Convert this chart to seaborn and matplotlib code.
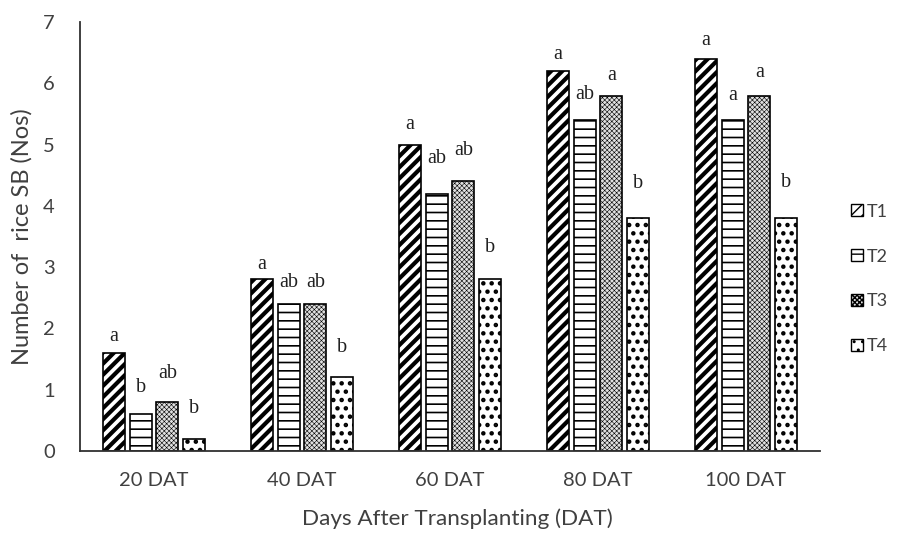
import matplotlib
matplotlib.use("Agg")
import matplotlib.pyplot as plt
from matplotlib.patches import Patch
import numpy as np
import pandas as pd
import seaborn as sns

# Sampling dates and treatments
stages = ["20 DAT", "40 DAT", "60 DAT", "80 DAT", "100 DAT"]
treatments = ["T1", "T2", "T3", "T4"]

# Mean number of rice stem borers per treatment at each date
t1_values = [1.6, 2.8, 5.0, 6.2, 6.4]
t2_values = [0.6, 2.4, 4.2, 5.4, 5.4]
t3_values = [0.8, 2.4, 4.4, 5.8, 5.8]
t4_values = [0.2, 1.2, 2.8, 3.8, 3.8]

# Significance letters (DMRT) per treatment at each date
t1_letters = ["a", "a", "a", "a", "a"]
t2_letters = ["b", "ab", "ab", "ab", "a"]
t3_letters = ["ab", "ab", "ab", "a", "a"]
t4_letters = ["b", "b", "b", "b", "b"]

# Vertical gap (pixels) between bar top and the centre of its letter
t1_gap = [16, 15, 20, 17, 18]
t2_gap = [27, 21, 35, 26, 25]
t3_gap = [28, 21, 31, 20, 23]
t4_gap = [30, 30, 32, 35, 36]

values = [t1_values, t2_values, t3_values, t4_values]
letters = [t1_letters, t2_letters, t3_letters, t4_letters]
gaps = [t1_gap, t2_gap, t3_gap, t4_gap]

df = pd.DataFrame(
    [(s, t, v) for t, vals in zip(treatments, values) for s, v in zip(stages, vals)],
    columns=["stage", "treatment", "count"],
)

sns.set_style("white")
plt.rcParams["font.family"] = ["Lato", "DejaVu Sans"]

# Fill style of each treatment: (hatch, facecolor, hatch line width)
styles = {
    "T1": ("///", "white", 3.0),
    "T2": ("--", "white", 1.2),
    "T3": ("xxxxxxx", "#e0e0e0", 0.4),
    "T4": ("..", "white", 2.0),
}

fig = plt.figure(figsize=(9.03, 5.33), dpi=100)
ax = fig.add_axes([80 / 903, 82 / 533, 740 / 903, 429 / 533])

sns.barplot(
    data=df, x="stage", y="count", hue="treatment",
    order=stages, hue_order=treatments,
    width=0.72, gap=0.18, legend=False, ax=ax,
    edgecolor="black", linewidth=1.2, errorbar=None,
)

text_grey = "#404040"
for cont, t, lab, gp in zip(ax.containers, treatments, letters, gaps):
    hatch, fc, hlw = styles[t]
    for bar, l, g in zip(cont, lab, gp):
        bar.set_facecolor(fc)
        bar.set_edgecolor("black")
        bar.set_hatch(hatch)
        if hasattr(bar, "set_hatch_linewidth"):
            bar.set_hatch_linewidth(hlw)
        ax.annotate(
            l, (bar.get_x() + bar.get_width() / 2, bar.get_height()),
            xytext=(0, g * 0.72), textcoords="offset points",
            ha="center", va="center", fontsize=14.5,
            family=["Liberation Serif"], color="#202020",
        )

ax.set_xlim(-0.5, 4.5)
ax.set_ylim(0, 7)
ax.set_yticks(range(0, 8))
ax.tick_params(axis="both", length=0, labelsize=14.5, colors=text_grey)
ax.tick_params(axis="y", pad=18)
ax.tick_params(axis="x", pad=15)
for side in ["top", "right"]:
    ax.spines[side].set_visible(False)
for side in ["left", "bottom"]:
    ax.spines[side].set_color("#303030")
    ax.spines[side].set_linewidth(1.3)

ax.set_xlabel("Days After Transplanting (DAT)", fontsize=16.2, color=text_grey)
ax.set_ylabel("Number of  rice SB (Nos)", fontsize=17, color=text_grey, labelpad=8)
ax.xaxis.set_label_coords(0.51, -0.133)

handles = []
for t in treatments:
    hatch, fc, hlw = styles[t]
    p = Patch(facecolor=fc, edgecolor="black", hatch=hatch, linewidth=1.0, label=t)
    if hasattr(p, "set_hatch_linewidth"):
        p.set_hatch_linewidth(hlw)
    handles.append(p)
fig.legend(
    handles=handles, loc="center left", bbox_to_anchor=(844 / 903, 1 - 279 / 533),
    frameon=False, handlelength=0.65, handleheight=0.65, handletextpad=0.2,
    labelspacing=1.6, fontsize=13, labelcolor=text_grey, borderaxespad=0,
)

fig.savefig("out.png", dpi=100)
